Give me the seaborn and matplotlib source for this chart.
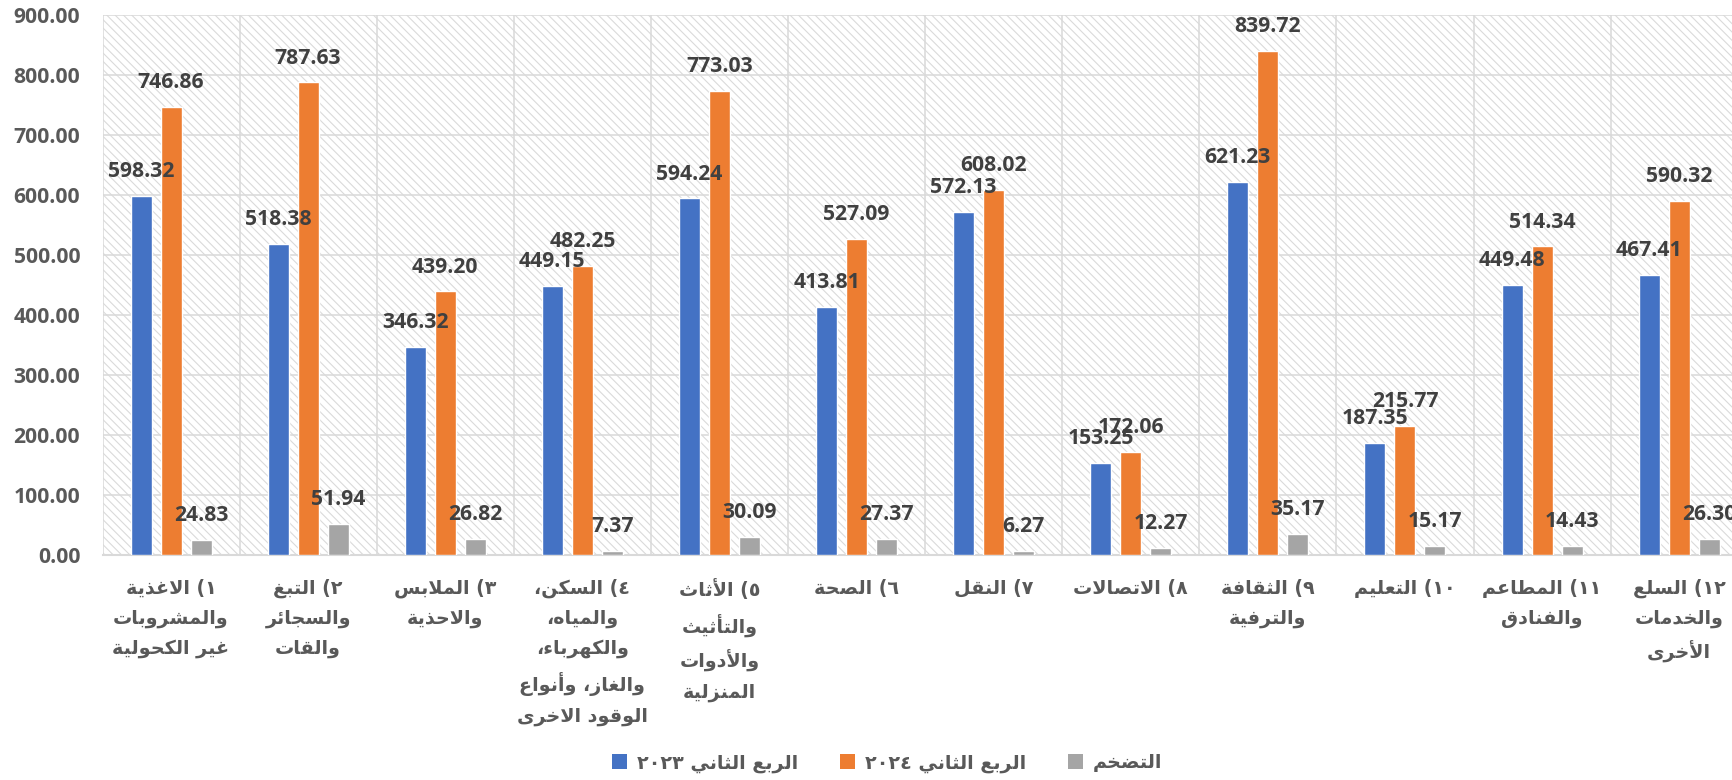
import re
import numpy as np
import pandas as pd
import matplotlib
matplotlib.use("Agg")
import matplotlib.pyplot as plt
import seaborn as sns
from matplotlib.patches import Patch

# ---------------- data ----------------
categories = [
    "١) الاغذية\nوالمشروبات\nغير الكحولية",
    "٢) التبغ\nوالسجائر\nوالقات",
    "٣) الملابس\nوالاحذية",
    "٤) السكن،\nوالمياه،\nوالكهرباء،\nوالغاز، وأنواع\nالوقود الاخرى",
    "٥) الأثاث\nوالتأثيث\nوالأدوات\nالمنزلية",
    "٦) الصحة",
    "٧) النقل",
    "٨) الاتصالات",
    "٩) الثقافة\nوالترفية",
    "١٠) التعليم",
    "١١) المطاعم\nوالفنادق",
    "١٢) السلع\nوالخدمات\nالأخرى",
]
q2_2023 = [598.32, 518.38, 346.32, 449.15, 594.24, 413.81, 572.13, 153.25, 621.23, 187.35, 449.48, 467.41]
q2_2024 = [746.86, 787.63, 439.20, 482.25, 773.03, 527.09, 608.02, 172.06, 839.72, 215.77, 514.34, 590.32]
inflation = [24.83, 51.94, 26.82, 7.37, 30.09, 27.37, 6.27, 12.27, 35.17, 15.17, 14.43, 26.30]
series_names = ["الربع الثاني ٢٠٢٣", "الربع الثاني ٢٠٢٤", "التضخم"]
colors = ["#4472C4", "#ED7D31", "#A5A5A5"]
yticks = [0, 100, 200, 300, 400, 500, 600, 700, 800, 900]

# ---------------- minimal Arabic shaping + RTL ordering ----------------
_FORM_TABLE = [
    (0x0621, 0xFE80, 1), (0x0622, 0xFE81, 2), (0x0623, 0xFE83, 2), (0x0624, 0xFE85, 2),
    (0x0625, 0xFE87, 2), (0x0626, 0xFE89, 4), (0x0627, 0xFE8D, 2), (0x0628, 0xFE8F, 4),
    (0x0629, 0xFE93, 2), (0x062A, 0xFE95, 4), (0x062B, 0xFE99, 4), (0x062C, 0xFE9D, 4),
    (0x062D, 0xFEA1, 4), (0x062E, 0xFEA5, 4), (0x062F, 0xFEA9, 2), (0x0630, 0xFEAB, 2),
    (0x0631, 0xFEAD, 2), (0x0632, 0xFEAF, 2), (0x0633, 0xFEB1, 4), (0x0634, 0xFEB5, 4),
    (0x0635, 0xFEB9, 4), (0x0636, 0xFEBD, 4), (0x0637, 0xFEC1, 4), (0x0638, 0xFEC5, 4),
    (0x0639, 0xFEC9, 4), (0x063A, 0xFECD, 4), (0x0641, 0xFED1, 4), (0x0642, 0xFED5, 4),
    (0x0643, 0xFED9, 4), (0x0644, 0xFEDD, 4), (0x0645, 0xFEE1, 4), (0x0646, 0xFEE5, 4),
    (0x0647, 0xFEE9, 4), (0x0648, 0xFEED, 2), (0x0649, 0xFEEF, 2), (0x064A, 0xFEF1, 4),
]
FORMS = {chr(c): tuple(chr(s + k) for k in range(n)) for c, s, n in _FORM_TABLE}
LAMALEF = {"\u0622": ("\uFEF5", "\uFEF6"), "\u0623": ("\uFEF7", "\uFEF8"),
           "\u0625": ("\uFEF9", "\uFEFA"), "\u0627": ("\uFEFB", "\uFEFC")}


def shape(s):
    units = []
    i = 0
    while i < len(s):
        c = s[i]
        if c == "\u0644" and i + 1 < len(s) and s[i + 1] in LAMALEF:
            units.append(LAMALEF[s[i + 1]])
            i += 2
        elif c in FORMS:
            units.append(FORMS[c])
            i += 1
        else:
            units.append(c)
            i += 1
    out = []
    for k, u in enumerate(units):
        if not isinstance(u, tuple):
            out.append(u)
            continue
        prev = units[k - 1] if k > 0 else None
        nxt = units[k + 1] if k + 1 < len(units) else None
        jp = isinstance(prev, tuple) and len(prev) == 4 and len(u) >= 2
        jn = len(u) == 4 and isinstance(nxt, tuple) and len(nxt) >= 2
        if jp and jn:
            out.append(u[3])
        elif jp:
            out.append(u[1])
        elif jn:
            out.append(u[2])
        else:
            out.append(u[0])
    return "".join(out)


def rtl(text):
    lines = []
    for line in text.split("\n"):
        v = shape(line)[::-1].translate(str.maketrans("()", ")("))
        v = re.sub(r"[\u0660-\u0669]+", lambda m: m.group(0)[::-1], v)
        lines.append(v)
    return "\n".join(lines)


# ---------------- figure ----------------
sns.set_style("white")
plt.rcParams["font.family"] = ["Open Sans", "DejaVu Sans"]
plt.rcParams["hatch.linewidth"] = 0.8

df = pd.DataFrame({
    "cat": categories * 3,
    "series": sum([[s] * len(categories) for s in series_names], []),
    "value": q2_2023 + q2_2024 + inflation,
})

fig = plt.figure(figsize=(17.32, 7.80), dpi=100)
ax = fig.add_axes([102.5 / 1732, 1 - 555 / 780, (1747.7 - 102.5) / 1732, 540 / 780])
ax.patch.set_facecolor("white")
ax.patch.set_hatch("\\\\\\\\")
ax.patch.set_edgecolor("#dadada")
ax.patch.set_linewidth(0)

sns.barplot(data=df, x="cat", y="value", hue="series", hue_order=series_names,
            order=categories, palette=colors, width=0.657, gap=0.3,
            saturation=1, ax=ax, legend=False, errorbar=None, zorder=3)

ax.set_xlim(-0.5, len(categories) - 0.5)
ax.set_ylim(0, 900)
ax.set_yticks(yticks)
ax.set_yticklabels([f"{v:.2f}" for v in yticks], fontsize=15.2, fontweight="bold", color="#595959")
ax.tick_params(axis="y", length=0, pad=16)

ax.set_xticks(range(len(categories)))
ax.set_xticklabels([rtl(c) for c in categories], fontsize=13.8, fontweight="bold",
                   color="#595959", family=["DejaVu Sans"], linespacing=1.72, va="top")
ax.set_xticks(np.arange(-0.5, len(categories), 1), minor=True)
ax.tick_params(axis="x", which="major", length=0, pad=17)
ax.tick_params(axis="x", which="minor", length=6, width=1.1, color="#d9d9d9", direction="out")

ax.set_axisbelow(True)
ax.grid(axis="y", which="major", color="#d9d9d9", linewidth=1.1)
ax.grid(axis="x", which="minor", color="#d9d9d9", linewidth=1.1)
ax.grid(axis="x", which="major", visible=False)
for side in ["top", "right", "left"]:
    ax.spines[side].set_visible(False)
ax.spines["bottom"].set_color("#d9d9d9")
ax.spines["bottom"].set_linewidth(1.5)
ax.set_xlabel("")
ax.set_ylabel("")

for cont in ax.containers:
    ax.bar_label(cont, fmt="%.2f", padding=10, fontsize=15.2, fontweight="bold",
                 color="#404040", zorder=5)

handles = [Patch(facecolor=c, edgecolor="none") for c in colors]
fig.legend(handles, [rtl(s) for s in series_names], loc="center",
           bbox_to_anchor=(887 / 1732, 1 - 763 / 780), ncol=3, frameon=False,
           prop={"family": ["DejaVu Sans"], "weight": "bold", "size": 13.8},
           handlelength=0.8, handleheight=0.8, handletextpad=0.5, columnspacing=2.2,
           labelcolor="#595959")

fig.savefig("out.png", dpi=100)
